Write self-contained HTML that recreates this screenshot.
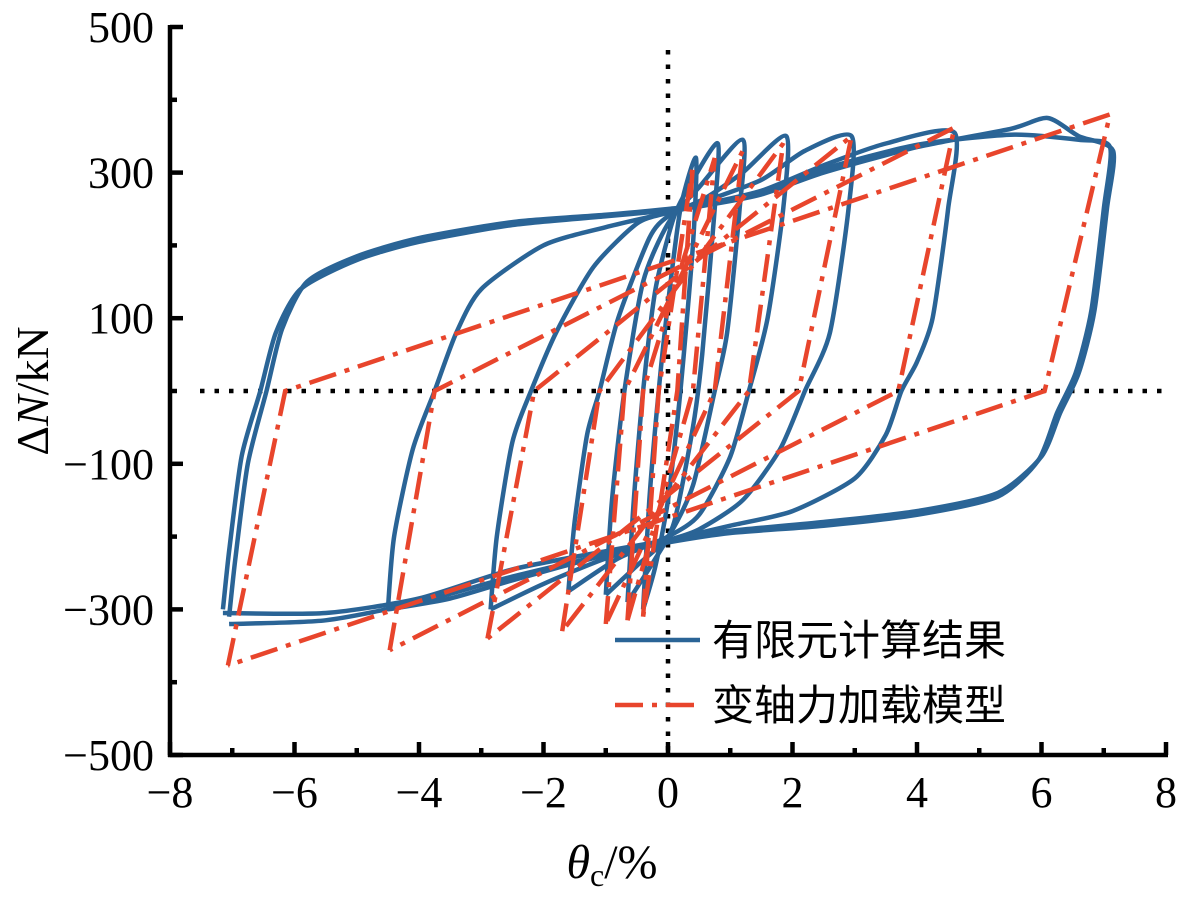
<!DOCTYPE html>
<html><head><meta charset="utf-8"><style>
body{margin:0;background:#fff;}
svg{display:block;font-family:"Liberation Serif","Noto Serif CJK SC",serif;}
</style></head><body>
<svg id="chart" width="1183" height="897" viewBox="0 0 1183 897" xmlns="http://www.w3.org/2000/svg">
<g id="plot"></g>
<g id="axes"></g>
<g>
<line x1="615" y1="640" x2="700" y2="640" stroke="#2a6496" stroke-width="4.5"/>
<text x="712" y="655" font-size="42" font-family="'Liberation Sans','Noto Sans CJK SC',sans-serif">有限元计算结果</text>
<line x1="615" y1="705" x2="700" y2="705" stroke="#e8452c" stroke-width="4.5" stroke-dasharray="28,9,5,9"/>
<text x="712" y="720" font-size="42" font-family="'Liberation Sans','Noto Sans CJK SC',sans-serif">变轴力加载模型</text>
</g>
<text transform="translate(48,391) rotate(-90)" text-anchor="middle" font-size="46">Δ<tspan font-style="italic">N</tspan>/kN</text>
<text x="612" y="878" text-anchor="middle" font-size="48"><tspan font-style="italic">θ</tspan><tspan font-size="32" dy="8">c</tspan><tspan dy="-8">/%</tspan></text>
</svg>
<script>
// Finite-element loops: each loop as [x, y] points (reload then unload)
const feLoopA = [[-7.15,-300],[-7.05,-220],[-6.85,-90],[-6.55,0],[-6.3,80],[-5.9,140],[-5.0,180],[-4,205],[-2.5,228],[-1,240],[0,248],[0.6,255],[1.5,270],[2.5,300],[4,335],[5.5,360],[6.1,375],[6.6,350],[7.15,330],[7.05,250],[6.85,110],[6.6,25],[6.3,-30],[6.0,-90],[5.3,-140],[4,-165],[2.5,-180],[1,-192],[0,-205],[-1,-220],[-2.5,-245],[-4,-285],[-5.5,-305],[-7.15,-305]];
const feLoopA2 = [[-7.05,-310],[-6.95,-230],[-6.75,-100],[-6.45,0],[-6.2,85],[-5.8,150],[-5.0,185],[-4,210],[-2.5,232],[-1,242],[0,250],[0.6,256],[1.5,272],[2.5,305],[4,338],[5.5,352],[6.6,345],[7.1,335],[7.0,250],[6.8,110],[6.55,25],[6.25,-30],[5.95,-95],[5.3,-145],[4,-170],[2.5,-185],[1,-195],[0,-208],[-1,-225],[-2.5,-255],[-4,-290],[-5.5,-315],[-7.05,-320]];
const feLoopB = [[-4.5,-300],[-4.4,-200],[-4.1,-80],[-3.75,0],[-3.4,80],[-3,140],[-2,200],[-1,225],[0,245],[0.5,255],[1.5,275],[2.5,310],[3.5,340],[4.6,355],[4.5,250],[4.25,100],[4.0,40],[3.75,0],[3.5,-60],[3.0,-120],[2,-165],[1,-185],[0,-205],[-1,-225],[-2.5,-260],[-3.5,-285],[-4.5,-300]];
const feLoopC = [[-2.85,-300],[-2.75,-200],[-2.5,-70],[-2.2,0],[-1.8,80],[-1.2,170],[-0.5,230],[0,245],[0.5,258],[1.5,290],[2.2,330],[2.95,350],[2.9,250],[2.6,80],[2.2,0],[1.8,-80],[1.2,-150],[0.5,-190],[0,-205],[-1,-230],[-2,-265],[-2.85,-300]];
const feLoopD = [[-1.6,-275],[-1.5,-180],[-1.3,-60],[-1.1,0],[-0.8,100],[-0.3,210],[0,240],[0.6,265],[1.2,300],[1.9,350],[1.85,250],[1.6,100],[1.3,0],[1.0,-90],[0.5,-170],[0,-200],[-0.8,-230],[-1.6,-275]];
const feLoopE = [[-1.0,-280],[-0.9,-150],[-0.7,0],[-0.4,150],[0,230],[0.5,280],[1.2,345],[1.15,250],[0.95,80],[0.75,0],[0.4,-130],[0,-200],[-0.5,-240],[-1.0,-280]];
const feLoopF = [[-0.65,-290],[-0.55,-150],[-0.4,0],[-0.2,140],[0.1,240],[0.4,290],[0.8,340],[0.75,250],[0.55,50],[0.4,-50],[0.1,-180],[-0.2,-230],[-0.65,-290]];
const feLoopG = [[-0.4,-300],[-0.3,-150],[-0.15,0],[0,120],[0.2,250],[0.45,320],[0.4,200],[0.2,0],[0,-150],[-0.2,-240],[-0.4,-300]];
const feLoops = [feLoopA, feLoopA2, feLoopB, feLoopC, feLoopD, feLoopE, feLoopF, feLoopG];

// Model (red) loops: positive peak, unload zero crossing, negative peak, reload zero crossing
const modelPosX = [7.1, 4.6, 2.95, 1.85, 1.2, 0.75, 0.4];
const modelPosY = [380, 362, 350, 340, 330, 320, 310];
const modelUnloadZero = [6.05, 3.7, 2.1, 1.3, 0.75, 0.4, 0.15];
const modelNegX = [-7.07, -4.47, -2.9, -1.7, -1.0, -0.65, -0.4];
const modelNegY = [-377, -356, -340, -330, -320, -315, -310];
const modelReloadZero = [-6.15, -3.75, -2.15, -1.1, -0.7, -0.4, -0.15];

const xTicks = [-8,-6,-4,-2,0,2,4,6,8];
const xTickLabels = ["−8","−6","−4","−2","0","2","4","6","8"];
const yTicks = [500,300,100,-100,-300,-500];
const yTickLabels = ["500","300","100","−100","−300","−500"];

const X0=170, X1=1166, Y0=755, Y1=27;
const sx = v => X0 + (v+8)/16*(X1-X0);
const sy = v => Y0 - (v+500)/1000*(Y0-Y1);
const NS="http://www.w3.org/2000/svg";
const plot=document.getElementById('plot'), axes=document.getElementById('axes');
function mk(tag,attrs,parent){const e=document.createElementNS(NS,tag);for(const k in attrs)e.setAttribute(k,attrs[k]);parent.appendChild(e);return e;}

let l=mk('line',{x1:sx(0),y1:50,x2:sx(0),y2:Y0,stroke:'#000','stroke-width':4.5,'stroke-dasharray':'4.5,10'},plot);


l=mk('line',{x1:200,y1:sy(0),x2:X1,y2:sy(0),stroke:'#000','stroke-width':4.5,'stroke-dasharray':'4.5,10'},plot);



function smooth(pts){
  const p=pts.map(q=>[sx(q[0]),sy(q[1])]);
  let d='M'+p[0][0].toFixed(1)+','+p[0][1].toFixed(1);
  for(let i=0;i<p.length-1;i++){
    const a=p[Math.max(0,i-1)],b=p[i],c=p[i+1],e=p[Math.min(p.length-1,i+2)];
    const t=0.12;
    d+=' C'+(b[0]+(c[0]-a[0])*t).toFixed(1)+','+(b[1]+(c[1]-a[1])*t).toFixed(1)+' '+(c[0]-(e[0]-b[0])*t).toFixed(1)+','+(c[1]-(e[1]-b[1])*t).toFixed(1)+' '+c[0].toFixed(1)+','+c[1].toFixed(1);
  }
  return d;
}
feLoops.forEach((lp,i)=>{
  const path=mk('path',{d:smooth(lp),fill:'none',stroke:'#2a6496','stroke-width':4.5,'stroke-linejoin':'round'},plot);
  
  
});
modelPosX.forEach((px,i)=>{
  const pts=[[modelNegX[i],modelNegY[i]],[modelReloadZero[i],0],[px,modelPosY[i]],[modelUnloadZero[i],0],[modelNegX[i],modelNegY[i]]];
  const d='M'+pts.map(q=>sx(q[0]).toFixed(1)+','+sy(q[1]).toFixed(1)).join(' L');
  const path=mk('path',{d:d,fill:'none',stroke:'#e8452c','stroke-width':4.5,'stroke-dasharray':'28,9,5,9'},plot);
  
  
});

let s=mk('line',{x1:X0,y1:Y1-2,x2:X0,y2:Y0+2,stroke:'#000','stroke-width':4.5},axes);


s=mk('line',{x1:X0-2,y1:Y0,x2:X1+2,y2:Y0,stroke:'#000','stroke-width':4.5},axes);


for(let v=-7;v<=7;v+=2){const t=mk('line',{x1:sx(v),y1:Y0,x2:sx(v),y2:Y0-7,stroke:'#000','stroke-width':4.5},axes);

}
for(let v=-400;v<=400;v+=200){const t=mk('line',{x1:X0,y1:sy(v),x2:X0+7,y2:sy(v),stroke:'#000','stroke-width':4.5},axes);

}
xTicks.forEach((v,i)=>{
  const t=mk('line',{x1:sx(v),y1:Y0,x2:sx(v),y2:Y0-13,stroke:'#000','stroke-width':4.5},axes);
  
  
  const tx=mk('text',{x:sx(v),y:Y0+52,'text-anchor':'middle','font-size':44},axes);
  tx.textContent=xTickLabels[i];
  
  
});
yTicks.forEach((v,i)=>{
  const t=mk('line',{x1:X0,y1:sy(v),x2:X0+13,y2:sy(v),stroke:'#000','stroke-width':4.5},axes);
  
  
  const tx=mk('text',{x:X0-16,y:sy(v)+15,'text-anchor':'end','font-size':44},axes);
  tx.textContent=yTickLabels[i];
  
  
});
</script>
</body></html>
